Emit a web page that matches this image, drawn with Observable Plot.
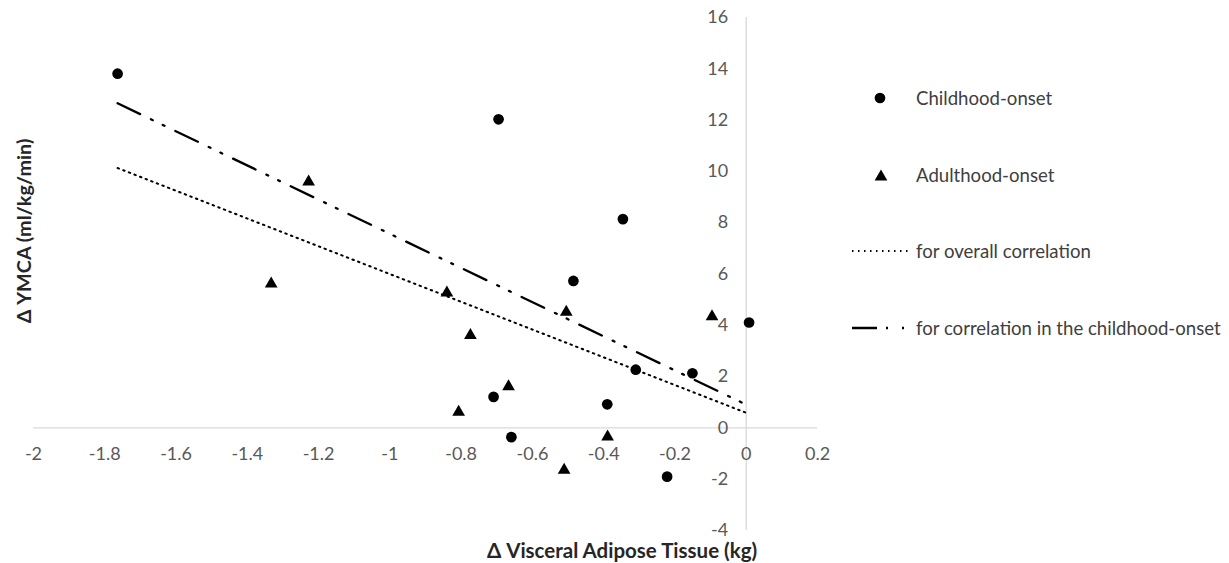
<!DOCTYPE html>
<html><head><meta charset="utf-8">
<script src="https://cdn.jsdelivr.net/npm/d3@7"></script>
<script src="https://cdn.jsdelivr.net/npm/@observablehq/plot@0.6"></script>
<style>
html,body{margin:0;padding:0;background:#fff;}
#wrap{position:relative;width:1229px;height:563px;font-family:Lato,sans-serif;}
#wrap svg{position:absolute;left:0;top:0;}
</style></head><body><div id="wrap"></div>
<script>
// Childhood-onset (circles)
const childX = [-1.764, -0.695, -0.346, -0.485, 0.008, -0.310, -0.151, -0.709, -0.390, -0.659, -0.222];
const childY = [13.81, 12.03, 8.14, 5.73, 4.11, 2.27, 2.13, 1.21, 0.92, -0.36, -1.90];
// Adulthood-onset (triangles)
const adultX = [-1.228, -1.333, -0.840, -0.505, -0.096, -0.774, -0.667, -0.807, -0.389, -0.511];
const adultY = [9.66, 5.69, 5.34, 4.59, 4.41, 3.68, 1.68, 0.69, -0.28, -1.57];

const xTicks = [-2, -1.8, -1.6, -1.4, -1.2, -1, -0.8, -0.6, -0.4, -0.2, 0, 0.2];
const yTicks = [-4, -2, 0, 2, 4, 6, 8, 10, 12, 14, 16];
const seriesNames = ["Childhood-onset", "Adulthood-onset"];
const lineNames = ["for overall correlation", "for correlation in the childhood-onset"];
const xTitle = "Δ Visceral Adipose Tissue (kg)";
const yTitle = "Δ YMCA (ml/kg/min)";

const child = childX.map((x, i) => ({x, y: childY[i], group: seriesNames[0]}));
const adult = adultX.map((x, i) => ({x, y: adultY[i], group: seriesNames[1]}));
const all = child.concat(adult);

const dotted = "1.5,4.5";
const dashDot = "25,12,2,11,2,12";

const plot = Plot.plot({
  width: 1229, height: 563,
  marginLeft: 33, marginRight: 412, marginTop: 17, marginBottom: 33,
  x: {domain: [-2, 0.2], axis: null},
  y: {domain: [-4, 16], axis: null},
  style: {fontFamily: "Lato, sans-serif", background: "transparent"},
  marks: [
    Plot.ruleY([0], {stroke: "#d9d9d9", strokeWidth: 1.3}),
    Plot.ruleX([0], {stroke: "#d9d9d9", strokeWidth: 1.3}),
    Plot.text(xTicks, {x: d => d, y: 0, dy: 26, text: d => String(d), fill: "#595959", fontSize: 18}),
    Plot.text(yTicks, {x: 0, y: d => d, dx: -18, textAnchor: "end", text: d => String(d), fill: "#595959", fontSize: 18}),
    Plot.linearRegressionY(all, {x: "x", y: "y", ci: 0, stroke: "#000", strokeWidth: 2, strokeDasharray: dotted}),
    Plot.linearRegressionY(child, {x: "x", y: "y", ci: 0, stroke: "#000", strokeWidth: 2.3, strokeDasharray: dashDot}),
    Plot.dot(child, {x: "x", y: "y", r: 5.35, fill: "#000", symbol: "circle"}),
    Plot.dot(adult, {x: "x", y: "y", r: 4.72, fill: "#000", symbol: "triangle", dy: 1.8})
  ]
});
const wrap = document.getElementById("wrap");
wrap.appendChild(plot);

// Overlay: axis titles and legend
const ov = d3.create("svg").attr("width", 1229).attr("height", 563)
  .style("font-family", "Lato, sans-serif");
ov.append("text").attr("x", 622).attr("y", 550).attr("text-anchor", "middle")
  .attr("dominant-baseline", "central").attr("font-weight", "bold").attr("font-size", 20.5)
  .attr("fill", "#262626").text(xTitle);
ov.append("text").attr("transform", "translate(23,231) rotate(-90)").attr("text-anchor", "middle")
  .attr("dominant-baseline", "central").attr("font-weight", "bold").attr("font-size", 19.8)
  .attr("fill", "#262626").text(yTitle);

const lg = ov.append("g");
const rows = [98, 175, 251, 328];
lg.append("circle").attr("cx", 880).attr("cy", rows[0]).attr("r", 5.35).attr("fill", "#000");
lg.append("path").attr("transform", `translate(881,${rows[1] + 1.8})`)
  .attr("d", d3.symbol(d3.symbolTriangle, 70)()).attr("fill", "#000");
lg.append("line").attr("x1", 852).attr("x2", 909).attr("y1", rows[2]).attr("y2", rows[2])
  .attr("stroke", "#000").attr("stroke-width", 2).attr("stroke-dasharray", dotted);
lg.append("line").attr("x1", 852).attr("x2", 905).attr("y1", rows[3]).attr("y2", rows[3])
  .attr("stroke", "#000").attr("stroke-width", 2.3).attr("stroke-dasharray", "25,9,2,14,2");
const labels = [seriesNames[0], seriesNames[1], lineNames[0], lineNames[1]];
labels.forEach((t, i) => {
  lg.append("text").attr("x", 916).attr("y", rows[i]).attr("dominant-baseline", "central")
    .attr("font-size", 18.6).attr("fill", "#404040").text(t);
});
wrap.appendChild(ov.node());
</script>
</body></html>
